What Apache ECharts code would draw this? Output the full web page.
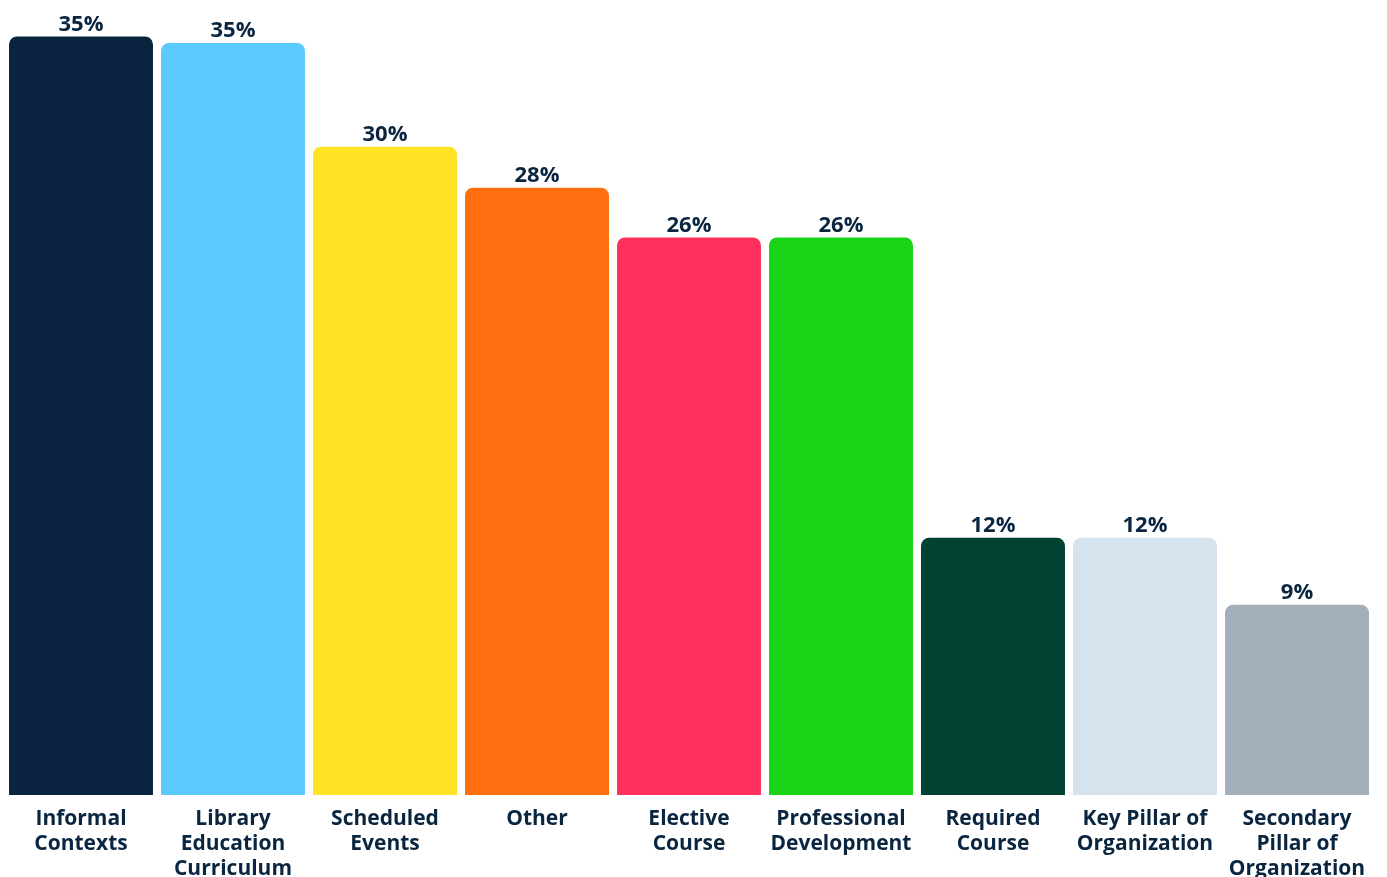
<!DOCTYPE html>
<html>
<head>
<meta charset="utf-8">
<script src="https://cdn.jsdelivr.net/npm/echarts@6/dist/echarts.min.js"></script>
<style>html,body{margin:0;padding:0;background:#fff;}#c{width:1387px;height:877px;}</style>
</head>
<body>
<div id="c"></div>
<script>
const categories = ["Informal\nContexts", "Library\nEducation\nCurriculum", "Scheduled\nEvents", "Other", "Elective\nCourse", "Professional\nDevelopment", "Required\nCourse", "Key Pillar of\nOrganization", "Secondary\nPillar of\nOrganization"];
const values = [35.1, 34.8, 30.0, 28.1, 25.8, 25.8, 11.9, 11.9, 8.8];
const colors = ["#0a2440", "#5bcbfd", "#ffe324", "#ff6f10", "#ff305c", "#19d316", "#024232", "#d5e3ef", "#a3b0ba"];
const textColor = "#0a2540";
const chart = echarts.init(document.getElementById('c'));
chart.setOption({
  animation: false,
  grid: { left: 5, right: 14, top: 17, bottom: 82, containLabel: false, outerBoundsMode: 'none' },
  xAxis: {
    type: 'category',
    data: categories,
    axisLine: { show: false },
    axisTick: { show: false },
    axisLabel: {
      interval: 0,
      margin: 12,
      color: textColor,
      fontFamily: 'Open Sans',
      fontWeight: 'bold',
      fontSize: 21,
      lineHeight: 25
    }
  },
  yAxis: {
    type: 'value', min: 0, max: 36,
    show: false,
    splitLine: { show: false }
  },
  series: [{
    type: 'bar',
    barCategoryGap: '5.3%',
    data: values.map((v, i) => ({ value: v, itemStyle: { color: colors[i] } })),
    itemStyle: { borderRadius: [8, 8, 0, 0] },
    label: {
      show: true,
      position: 'top',
      distance: 1,
      color: textColor,
      fontFamily: 'Open Sans',
      fontWeight: 'bold',
      fontSize: 22,
      formatter: p => Math.round(p.value) + '%'
    }
  }]
});
</script>
</body>
</html>
